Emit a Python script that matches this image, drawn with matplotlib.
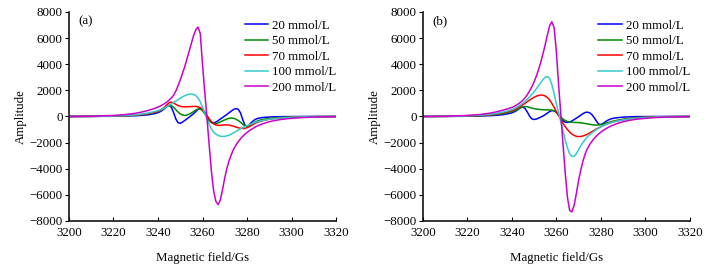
import matplotlib
matplotlib.use("Agg")
from matplotlib import pyplot as plt

plt.rcParams['font.family'] = ['Liberation Serif', 'DejaVu Serif']

# magnetic field grid (Gs), shared by both panels
field = [3200, 3210, 3220, 3225, 3230, 3233, 3236, 3238,
         3240, 3241, 3242, 3243, 3244, 3245, 3246, 3247, 3248, 3249,
         3250, 3251, 3252, 3253, 3254, 3255, 3256, 3257, 3258, 3259,
         3260, 3261, 3262, 3263, 3264, 3265, 3266, 3267, 3268, 3269,
         3270, 3271, 3272, 3273, 3274, 3275, 3276, 3277, 3278, 3279,
         3280, 3281, 3282, 3283, 3284, 3285,
         3287, 3290, 3293, 3296, 3300, 3305, 3310, 3320]

labels = ['20 mmol/L', '50 mmol/L', '70 mmol/L', '100 mmol/L', '200 mmol/L']
colors = ['#0000ff', '#008a00', '#ff0000', '#33cccc', '#cc00cc']

# panel (a)
a_20 = [0, 5, 20, 35, 60, 90, 140, 200,
        290, 370, 480, 620, 770, 850, 700, 300, -180, -480,
        -520, -430, -310, -180, -50, 80, 220, 380, 540, 620,
        560, 330, 20, -260, -440, -490, -430, -320, -200, -80,
        40, 160, 290, 420, 540, 600, 560, 300, -200, -650,
        -800, -650, -450, -300, -200, -140,
        -80, -40, -20, -10, -5, 0, 0, 0]
a_50 = [0, 10, 30, 50, 100, 150, 220, 290,
        380, 450, 540, 650, 770, 850, 830, 700, 520, 340,
        200, 110, 80, 110, 180, 270, 380, 490, 570, 570,
        440, 200, -80, -330, -480, -540, -540, -490, -420, -340,
        -260, -190, -140, -120, -140, -200, -300, -430, -580, -710,
        -760, -700, -590, -480, -390, -320,
        -230, -150, -100, -65, -40, -20, -10, 0]
a_70 = [0, 10, 30, 60, 110, 160, 240, 310,
        400, 480, 580, 710, 900, 1050, 1100, 1040, 930, 840,
        780, 750, 740, 740, 750, 760, 770, 770, 740, 680,
        540, 330, 80, -180, -400, -560, -650, -680, -680, -660,
        -640, -640, -660, -700, -750, -810, -860, -900, -920, -910,
        -860, -780, -680, -580, -490, -420,
        -320, -210, -140, -95, -55, -30, -15, 0]
a_100 = [0, 10, 40, 70, 130, 190, 280, 360,
         450, 510, 580, 660, 750, 850, 960, 1070, 1180, 1290,
         1400, 1500, 1590, 1660, 1710, 1720, 1690, 1600, 1420, 1120,
         720, 260, -200, -600, -950, -1200, -1350, -1450, -1510, -1530,
         -1520, -1480, -1420, -1340, -1250, -1150, -1050, -950, -860, -780,
         -700, -630, -560, -490, -430, -380,
         -300, -210, -150, -100, -60, -30, -15, 0]
a_200 = [0, 20, 80, 140, 250, 350, 480, 590,
         720, 800, 890, 990, 1110, 1250, 1420, 1620, 1950, 2350,
         2800, 3300, 3800, 4400, 5000, 5600, 6200, 6650, 6850, 6350,
         4000, 1900, -100, -2200, -4200, -5700, -6500, -6750, -6400, -5600,
         -4700, -3950, -3350, -2900, -2500, -2200, -1950, -1720, -1530, -1370,
         -1230, -1100, -980, -880, -780, -700,
         -560, -400, -290, -210, -140, -80, -45, -10]

# panel (b)
b_20 = [0, 5, 20, 35, 60, 90, 140, 200,
        280, 350, 440, 560, 680, 720, 600, 330, 20, -180,
        -230, -200, -130, -50, 40, 140, 260, 380, 450, 440,
        330, 130, -120, -330, -440, -460, -420, -340, -240, -130,
        -20, 100, 220, 310, 330, 280, 140, -80, -350, -580,
        -620, -530, -410, -300, -220, -160,
        -100, -50, -25, -10, -5, 0, 0, 0]
b_50 = [0, 10, 30, 55, 100, 150, 220, 290,
        380, 440, 510, 590, 670, 730, 760, 740, 690, 640,
        600, 570, 550, 530, 520, 510, 510, 500, 480, 430,
        320, 150, -40, -200, -310, -380, -420, -440, -450, -460,
        -470, -490, -510, -540, -570, -600, -630, -650, -660, -650,
        -620, -580, -530, -480, -430, -380,
        -300, -210, -140, -90, -50, -25, -10, 0]
b_70 = [0, 10, 40, 70, 130, 190, 280, 360,
        450, 520, 600, 690, 790, 900, 1020, 1140, 1260, 1370,
        1470, 1550, 1610, 1640, 1630, 1570, 1450, 1260, 1000, 700,
        380, 70, -230, -520, -780, -1000, -1190, -1340, -1450, -1520,
        -1540, -1530, -1490, -1430, -1350, -1260, -1160, -1060, -960, -870,
        -790, -710, -630, -560, -500, -440,
        -350, -250, -170, -120, -70, -35, -15, 0]
b_100 = [0, 15, 50, 90, 160, 230, 330, 420,
         530, 600, 690, 790, 900, 1030, 1170, 1330, 1500, 1690,
         1890, 2110, 2350, 2600, 2830, 3000, 3050, 2900, 2450, 1750,
         1000, 300, -400, -1100, -1800, -2400, -2850, -3050, -3050, -2850,
         -2550, -2250, -1980, -1750, -1560, -1400, -1260, -1130, -1010, -900,
         -800, -710, -630, -560, -500, -450,
         -360, -260, -180, -130, -80, -40, -20, 0]
b_200 = [0, 20, 80, 140, 250, 350, 480, 580,
         690, 770, 860, 970, 1100, 1250, 1440, 1680, 1960, 2280,
         2650, 3080, 3580, 4150, 4800, 5500, 6250, 6950, 7250, 6800,
         5000, 2500, 200, -2100, -4300, -6200, -7200, -7300, -6800, -5900,
         -4900, -4100, -3400, -2850, -2450, -2150, -1900, -1680, -1500, -1340,
         -1200, -1080, -970, -870, -780, -700,
         -560, -400, -290, -210, -140, -80, -45, -10]

panels = [('(a)', [a_20, a_50, a_70, a_100, a_200]),
          ('(b)', [b_20, b_50, b_70, b_100, b_200])]

fs = 9.3
fig = plt.figure(figsize=(7.24, 2.79), dpi=100)
lefts = [0.0953, 0.584]

for left, (tag, series) in zip(lefts, panels):
    ax = fig.add_axes([left, 0.208, 0.3688, 0.749])
    for ys, lab, col in zip(series, labels, colors):
        ax.plot(field, ys, color=col, lw=1.1, label=lab)
    ax.set_xlim(3200, 3320)
    ax.set_ylim(-8000, 8000)
    ax.set_xticks(range(3200, 3321, 20))
    ax.set_yticks(range(-8000, 8001, 2000))
    ax.spines['top'].set_visible(False)
    ax.spines['right'].set_visible(False)
    for s in ('left', 'bottom'):
        ax.spines[s].set_linewidth(1.1)
    ax.tick_params(axis='x', direction='in', length=3, labelsize=fs, pad=4)
    ax.tick_params(axis='y', direction='out', length=3, labelsize=fs, pad=1.5)
    ax.set_xlabel('Magnetic field/Gs', fontsize=fs, labelpad=10)
    ax.set_ylabel('Amplitude', fontsize=fs, labelpad=2)
    ax.text(0.035, 0.985, tag, transform=ax.transAxes, fontsize=fs,
            va='top', ha='left')
    ax.legend(loc='upper right', bbox_to_anchor=(1.0, 0.962), frameon=False,
              fontsize=fs, handlelength=1.8, handletextpad=0.3,
              labelspacing=0.26, borderaxespad=0, borderpad=0)

fig.savefig('out.png', dpi=100)
